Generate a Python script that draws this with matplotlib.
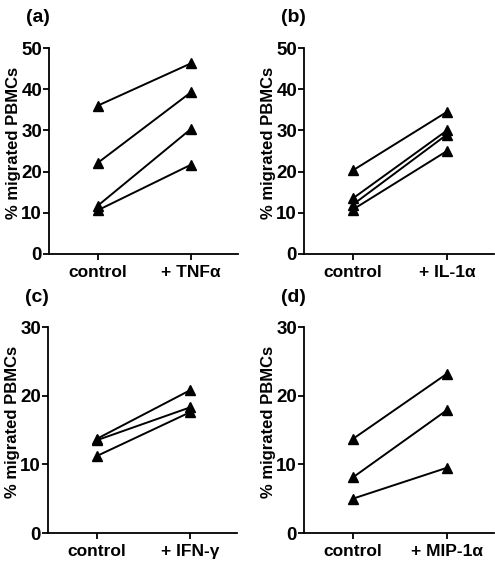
import matplotlib.pyplot as plt

plt.rcParams['font.family'] = ['Liberation Sans', 'DejaVu Sans']
plt.rcParams['font.weight'] = 'bold'

# paired values: control -> treated, one pair per donor
panel_tags = ['(a)', '(b)', '(c)', '(d)']
treat_labels = ['+ TNF\u03b1', '+ IL-1\u03b1', '+ IFN-\u03b3', '+ MIP-1\u03b1']

ctrl_a = [36.0, 22.1, 11.7, 10.6]
trt_a = [46.3, 39.3, 30.4, 21.7]

ctrl_b = [20.3, 13.5, 12.0, 10.8]
trt_b = [34.5, 30.0, 29.0, 25.0]

ctrl_c = [13.7, 13.5, 11.2]
trt_c = [20.8, 18.3, 17.6]

ctrl_d = [13.7, 8.1, 5.0]
trt_d = [23.2, 17.9, 9.5]

ymax = [50, 50, 30, 30]
yticks_top = [0, 10, 20, 30, 40, 50]
yticks_bot = [0, 10, 20, 30]

fig = plt.figure(figsize=(4.95, 5.71), dpi=100)

# axes boxes in pixels (left, top, right, bottom)
boxes = [(49, 48, 238, 254), (304, 48, 494, 254),
         (48, 327, 237, 533), (304, 327, 494, 533)]
W, H = 495.0, 571.0

data = [(ctrl_a, trt_a), (ctrl_b, trt_b), (ctrl_c, trt_c), (ctrl_d, trt_d)]

for k in range(4):
    l, t, r, b = boxes[k]
    ax = fig.add_axes([l / W, 1 - b / H, (r - l) / W, (b - t) / H])
    ctrl, trt = data[k]
    for c, v in zip(ctrl, trt):
        ax.plot([0, 1], [c, v], color='black', lw=1.4, marker='^',
                markersize=7.5, clip_on=False)
    ax.set_xlim(-0.52, 1.5)
    ax.set_ylim(0, ymax[k])
    ax.set_yticks(yticks_top if ymax[k] == 50 else yticks_bot)
    ax.set_xticks([0, 1])
    ax.set_xticklabels(['control', treat_labels[k]], fontsize=12.5)
    ax.spines['top'].set_visible(False)
    ax.spines['right'].set_visible(False)
    ax.spines['left'].set_linewidth(1.3)
    ax.spines['bottom'].set_linewidth(1.3)
    ax.tick_params(direction='out', length=4, width=1.3, labelsize=13.5, pad=1)
    ax.tick_params(axis='x', pad=4, labelsize=12.5)
    ax.set_ylabel('% migrated PBMCs', fontsize=12, fontweight='bold')
    ax.yaxis.set_label_coords(-0.15, 0.54)
    fig.text((l - 11) / W, 1 - (t - 30) / H, panel_tags[k], fontsize=14,
             fontweight='bold', ha='center', va='center')

fig.savefig('out.png', dpi=100)
